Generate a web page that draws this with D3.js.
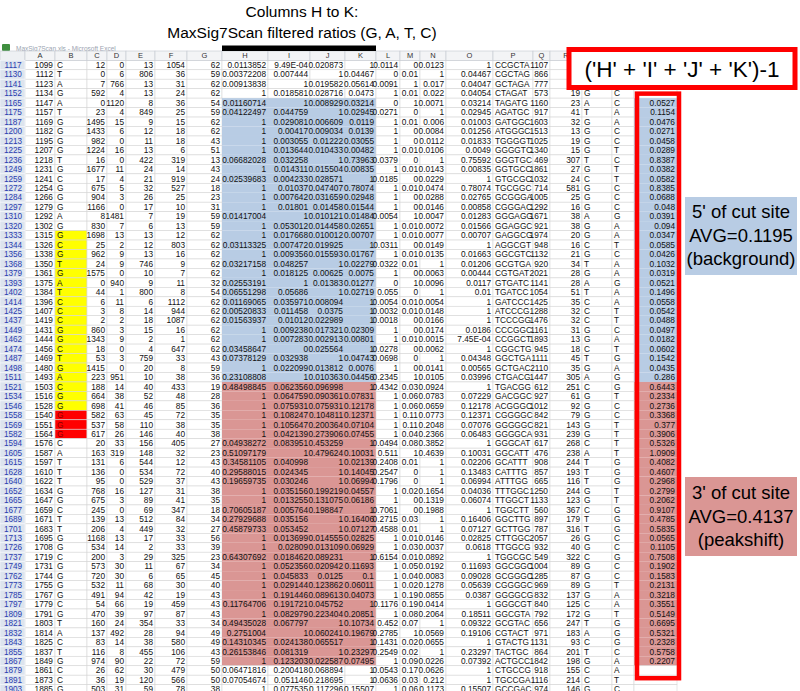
<!DOCTYPE html>
<html><head><meta charset="utf-8">
<script src="https://cdn.jsdelivr.net/npm/d3@7"></script>
<style>body{margin:0;background:#fff}svg{display:block}</style>
</head><body>
<svg id="chart" width="800" height="691"></svg>
<script>
// ---------------- DATA ----------------
const rowNums = [1117,1130,1141,1152,1165,1175,1187,1200,1213,1225,1236,1249,1259,1272,1284,1297,1310,1320,1333,1344,1356,1368,1379,1393,1402,1414,1425,1437,1449,1462,1474,1487,1498,1511,1521,1534,1546,1558,1569,1582,1594,1605,1615,1628,1640,1652,1665,1677,1689,1701,1713,1726,1737,1749,1762,1773,1785,1797,1809,1821,1832,1843,1855,1867,1879,1891,1903];
const colA = [1099,1112,1123,1134,1147,1157,1169,1182,1195,1207,1218,1231,1241,1254,1266,1279,1292,1302,1315,1326,1338,1350,1361,1375,1384,1396,1407,1419,1431,1444,1456,1469,1480,1493,1503,1516,1528,1540,1551,1564,1576,1587,1597,1610,1622,1634,1647,1659,1671,1683,1695,1708,1719,1731,1744,1755,1767,1779,1791,1803,1814,1825,1837,1849,1861,1873,1885];
const colB = ["C","T","A","G","A","T","G","G","G","G","T","G","C","G","G","G","A","G","G","C","G","T","G","A","T","C","C","C","G","G","C","T","G","A","C","G","G","G","G","G","C","A","T","T","T","G","G","C","T","T","G","G","C","G","G","G","G","C","G","T","A","C","T","G","C","C","G"];
const colC = [12,0,7,592,0,23,1495,1433,982,1224,16,1677,17,675,904,1166,8,830,1698,25,962,24,1575,0,44,6,3,2,860,1343,18,53,1415,223,188,664,698,582,537,617,20,163,131,136,95,768,675,245,139,206,1168,534,200,573,720,532,491,54,470,160,137,83,116,974,26,36,503];
const colD = [0,6,766,4,1120,4,15,6,0,16,0,11,4,5,3,0,1481,7,13,2,9,9,0,940,1,11,8,2,3,9,0,3,0,951,14,38,41,63,58,26,33,319,6,0,0,16,3,0,13,4,13,14,3,30,30,11,94,66,39,24,492,14,8,90,62,19,31];
const colE = [13,806,13,13,8,849,9,12,11,13,422,24,21,32,26,17,7,6,13,12,13,746,10,9,800,6,14,18,15,2,4,759,20,10,40,52,46,45,110,146,156,148,544,534,529,127,89,69,512,449,17,2,29,11,6,68,42,19,97,354,28,38,455,22,30,120,59];
const colF = [1054,36,31,24,36,25,15,18,18,6,319,14,919,527,25,10,19,13,12,803,16,9,7,11,8,1112,944,1087,16,1,647,33,8,38,433,48,85,72,38,40,405,32,12,72,37,31,41,347,84,32,33,33,325,67,65,30,19,459,87,33,94,580,106,72,479,566,78];
const colG = [62,59,62,62,54,59,62,62,43,51,13,43,24,18,23,31,59,59,62,62,62,62,62,32,54,62,62,62,62,62,62,43,59,36,19,28,36,35,35,38,27,23,43,40,43,38,35,18,34,27,56,39,23,34,45,40,43,43,43,34,49,49,43,59,50,50,38];
const colH = [0.0113852,0.00372208,0.00913838,1,0.01160714,0.04122497,1,1,1,1,0.06682028,1,0.02539683,1,1,1,0.01417004,1,1,0.03113325,1,0.03217158,1,0.02553191,0.06551298,0.01169065,0.00520833,0.01563937,1,1,0.03458647,0.07378129,1,0.23108808,0.48498845,1,1,1,1,1,0.04938272,0.51097179,0.34581105,0.29588015,0.19659735,1,1,0.70605187,0.27929688,0.45879733,1,1,0.64307692,1,1,1,1,0.11764706,1,0.49435028,0.2751004,0.14310345,0.26153846,1,0.06471816,0.07054674,1];
const colI = [0.000949,0.007444,1,0.018581,1,0.044759,0.029081,0.00417,0.003055,0.013644,0.032258,0.014311,0.004233,0.01037,0.007642,0.01801,1,0.053012,0.017668,0.007472,0.009356,0.048257,0.018125,1,0.05686,0.035971,0.011458,0.01012,0.009238,0.007283,0,0.032938,0.022099,1,0.062356,0.064759,0.075931,0.108247,0.105647,0.042139,0.083951,1,0.040998,0.024345,0.030246,0.035156,0.013255,0.005764,0.035156,0.053452,0.013699,0.02809,0.018462,0.052356,0.045833,0.029144,0.191446,0.191721,0.082979,0.067797,1,0.024138,0.081319,0.123203,0.200418,0.051146,0.077535];
const colJ = [0.020873,1,0.019582,0.028716,0.008929,1,0.006609,0.009034,0.01222,0.010433,1,0.015504,0.028571,0.047407,0.031659,0.01458,0.010121,0.014458,0.010012,0.019925,0.015593,1,0.00625,0.01383,1,0.008094,0.0375,0.022989,0.017321,0.002913,0.025564,1,0.013812,0.010363,0.096998,0.090361,0.075931,0.104811,0.200364,0.273906,0.453259,0.479624,1,1,1,0.199219,0.131075,0.198847,1,1,0.014555,0.013109,0.089231,0.020942,0.0125,0.123862,0.089613,0.045752,0.223404,1,0.060241,0.065517,1,0.022587,0.068894,0.218695,0.117296];
const colK = [1,0.04467,0.05614,0.0473,0.03214,0.02945,0.0119,0.0139,0.03055,0.00482,0.73963,0.00835,1,0.78074,0.02948,0.01544,0.01484,0.02651,0.00707,1,0.01767,0.02279,0.0075,0.01277,0.02719,1,1,1,0.02309,0.00801,1,0.04743,0.0076,0.04456,1,0.07831,0.12178,0.12371,0.07104,0.07455,1,0.10031,0.02139,0.14045,0.06994,0.04557,0.06186,1,0.16406,0.07127,0.02825,0.06929,1,0.11693,0.1,0.06011,0.04073,1,0.20851,0.10734,0.19679,1,0.23297,0.07495,1,1,0.15507];
const colL = [0.0114,0,0.0091,1,0,0.0271,1,1,1,1,0.0379,1,0.0185,1,1,1,0.0054,1,1,0.0311,1,0.0322,1,0,0.055,0.0054,0.0032,0.0018,1,1,0.0278,0.0698,1,0.2345,0.4342,1,1,1,1,1,0.0494,0.511,0.2408,0.2547,0.1796,1,1,0.7061,0.2715,0.4588,1,1,0.6154,1,1,1,1,0.1176,1,0.452,0.2785,0.1431,0.2549,1,0.0543,0.0636,1];
const colM = [0,0.01,1,0.01,1,0,0.01,0,0,0.01,0,0.01,0,0.01,0,0,1,0.01,0.01,0,0.01,0.01,0,1,0,0.01,0.01,0,0,0.01,0,0,0,1,0.03,0.06,0.06,0.11,0.11,0.04,0.08,1,0.01,0,0,0.02,0,0,0.03,0.01,0.01,0.03,0.01,0.05,0.04,0.02,0.19,0.19,0.08,0.07,1,0.02,0.02,0.09,0.17,0.03,0.06];
const colN = [0.0123,1,0.017,0.022,0.0071,1,0.006,0.0084,0.0112,0.0106,1,0.0143,0.0229,0.0474,0.0288,0.0146,0.0047,0.0072,0.0077,0.0149,0.0135,1,0.0063,0.0096,1,0.0054,0.0148,0.0166,0.0174,0.0015,0.0062,1,0.0141,0.0105,0.0924,0.0783,0.0659,0.0773,0.2048,0.2366,0.3852,0.4639,1,1,1,0.1654,0.1319,0.1988,1,1,0.0146,0.0037,0.0892,0.0192,0.0083,0.1278,0.0855,0.0414,0.2064,1,0.0569,0.0655,1,0.0226,0.0626,0.212,0.1173];
const colO = [1,0.04467,0.04047,0.04054,0.03214,0.02945,0.01003,0.01256,0.01833,0.0049,0.75592,0.00835,1,0.78074,0.02765,0.00858,0.01283,0.01566,0.00707,1,0.01663,0.01206,0.00444,0.0117,0.01,1,1,1,0.0186,0.000745,1,0.04348,0.00565,0.03996,1,0.07229,0.12178,0.12371,0.07076,0.06483,1,0.10031,0.02206,0.13483,0.06994,0.04036,0.06074,1,0.16406,0.07127,0.02825,0.0618,1,0.11693,0.09028,0.05639,0.0387,1,0.18511,0.09322,0.19106,1,0.23297,0.07392,1,1,0.15507];
const colP = ["CCGCTA","CGCTAG","GCTAGA","CTAGAT","TAGATG","AGATGC","GATGGC","ATGGGC","TGGGGT","GGGGTC","GGGTGC","GGTGCC","GTGCGC","TGCGGC","GCGGGA","CGGGAC","GGGAGG","GGAGGC","GAGGCG","AGGCGT","GGCGTC","GCGTGA","CGTGAT","GTGATC","TGATCC","GATCCC","ATCCCG","TCCCGG","CCCGGC","CCGGCT","CGGCTG","GGCTGA","GCTGAC","CTGACG","TGACGG","GACGGC","ACGGGC","CGGGGC","GGGGGC","GGGGCA","GGGCAT","GGCATT","GCATTT","CATTTG","ATTTGG","TTTGGC","TTGGCT","TGGCTT","GGCTTG","GCTTGG","CTTGGC","TTGGCG","TGGCGC","GGCGGC","GCGGGC","CGGGGC","GGGGCG","GGGCGT","GGCGTA","GCGTAC","CGTACT","GTACTG","TACTGC","ACTGCC","CTGCCG","TGCCGA","GCCGAC"];
const colQ = [1107,866,777,573,1160,917,1603,1513,1025,1340,469,1861,1032,714,1005,1292,1671,921,1974,948,1132,920,2021,1141,1054,1425,1288,1476,1161,1893,945,1111,2110,1447,612,927,1012,842,821,931,617,476,908,857,665,1250,1133,560,897,787,2057,932,549,1004,1285,969,832,840,792,656,971,1131,864,1842,918,1116,974];
const colR = [21,31,27,19,23,41,32,13,19,15,307,27,24,581,25,16,38,38,20,16,21,34,28,28,51,35,32,32,31,13,18,45,35,305,251,61,92,79,143,239,268,238,244,193,116,244,123,367,179,316,26,40,322,89,87,89,137,125,172,247,183,93,201,198,155,214,146];
const colS = ["C","T","A","G","A","T","G","G","G","G","T","G","C","G","G","G","A","G","G","C","G","T","G","A","T","C","C","C","G","G","C","T","G","A","C","G","G","G","G","G","C","A","T","T","T","G","G","C","T","T","G","G","C","G","G","G","G","C","G","T","A","C","T","G","C","C","G"];
const colT = ["G","C","C","C","C","A","A","C","C","T","C","T","T","C","C","C","G","A","A","T","C","A","A","G","A","A","T","T","C","A","T","G","A","G","G","T","C","C","T","T","T","T","G","G","G","T","T","G","G","G","C","C","G","C","C","T","A","A","T","G","G","G","C","A","A","T","C"];
// ('H'+'I'+'J'+'K')-1
const colU = [null,null,null,null,0.0527,0.1154,0.0476,0.0271,0.0458,0.0289,0.8387,0.0382,0.0582,0.8385,0.0688,0.048,0.0391,0.094,0.0347,0.0585,0.0426,0.1032,0.0319,0.0521,0.1496,0.0558,0.0542,0.0488,0.0497,0.0182,0.0602,0.1542,0.0435,0.286,0.6443,0.2334,0.2736,0.3368,0.377,0.3906,0.5326,1.0909,0.4082,0.4607,0.2968,0.2799,0.2062,0.9107,0.4785,0.5835,0.0565,0.1105,0.7508,0.1902,0.1583,0.2131,0.3218,0.3551,0.5149,0.6695,0.5321,0.2328,0.5758,0.2207,null,null,null];

const region5Rows = [1165, 1511];   // 5' of cut site (background)
const region3Rows = [1521, 1867];   // 3' of cut site (peakshift)
const yellowRows = [1333, 1546];
const redRows = [1558, 1582];
const colLetters = ["A","B","C","D","E","F","G","H","I","J","K","L","M","N","O","P","Q","R","S","T","U"];
const titleLines = ["Columns H to K:", "MaxSig7Scan filtered ratios (G, A, T, C)"];
const formulaLabel = "('H' + 'I' + 'J' + 'K')-1";
const note5 = ["5' of cut site", "AVG=0.1195", "(background)"];
const note3 = ["3' of cut site", "AVG=0.4137", "(peakshift)"];

// ---------------- LAYOUT ----------------
const widths = {A:30,B:32,C:20,D:19,E:29,F:32,G:35,H:46,I:42,J:35,K:31,L:24,M:20,N:26,O:47,P:40,Q:17,R:32,S:30,T:22,U:43};
const rowHeadW = 25;
const edges = [rowHeadW];
colLetters.forEach((c,i)=>edges.push(edges[i]+widths[c]));
const x = d3.scaleOrdinal().domain(colLetters).range(edges.slice(0,-1));
const w = c => widths[c];
const gridTop = 60.3, rowH = 9.46;
const y = d3.scaleBand().domain(rowNums).range([gridTop, gridTop + rowNums.length*rowH]).padding(0);

const BLUE = "#b8cce4", PINK = "#da9694", GRID = "#d6d6d6";
const inRange = (r, rg) => r >= rg[0] && r <= rg[1];
const fmt = v => {
  if (v === null || v === undefined) return "";
  if (typeof v === "string") return v;
  if (v > 0 && v < 0.001) {
    const [m, e] = v.toExponential(2).toUpperCase().split("E");
    const n = parseInt(e, 10);
    return m + "E" + (n < 0 ? "-" : "+") + String(Math.abs(n)).padStart(2, "0");
  }
  return String(v);
};

const cols = {A:colA,B:colB,C:colC,D:colD,E:colE,F:colF,G:colG,H:colH,I:colI,J:colJ,K:colK,L:colL,M:colM,N:colN,O:colO,P:colP,Q:colQ,R:colR,S:colS,T:colT,U:colU};
const leftAligned = new Set(["B","P","S","T"]);
const shaded = (c, d) => ("HIJK".includes(c) || (c === "U" && colU[d.i] !== null)) &&
  (inRange(d.r, region5Rows) || inRange(d.r, region3Rows));

const svg = d3.select("#chart");
svg.append("rect").attr("width",800).attr("height",691).attr("fill","#fff");

// window title strip
svg.append("rect").attr("x",2).attr("y",44).attr("width",8).attr("height",7).attr("fill","#3f8f3f").attr("rx",1);
svg.append("text").attr("x",16).attr("y",50.5).attr("font-family","Liberation Sans, Arial, sans-serif")
  .attr("font-size",6.5).attr("fill","#9aa3b0").text("MaxSig7Scan.xls  -  Microsoft Excel");

// cells
const cellG = svg.append("g");
const rowsData = rowNums.map((r,i)=>({r,i}));
colLetters.forEach(c=>{
  cellG.selectAll(null).data(rowsData).join("rect")
    .attr("x", x(c)).attr("y", d=>y(d.r)).attr("width", w(c)).attr("height", y.bandwidth())
    .attr("fill", d=>{
      if (c === "B" && inRange(d.r, yellowRows)) return "#ffff00";
      if (c === "B" && inRange(d.r, redRows)) return "#ff0000";
      if (shaded(c, d)) return inRange(d.r, region5Rows) ? BLUE : PINK;
      return "#fff";
    })
    .attr("stroke", d=> shaded(c, d) ? "none" : GRID).attr("stroke-width",0.6);
});

// header row
const hdr = svg.append("g");
hdr.append("rect").attr("x",0).attr("y",51).attr("width",rowHeadW).attr("height",gridTop-51).attr("fill","#eef0f3").attr("stroke","#c3c8d0").attr("stroke-width",0.6);
hdr.selectAll(null).data(colLetters).join("rect")
  .attr("x", c=>x(c)).attr("y",51).attr("width", c=>w(c)).attr("height", gridTop-51)
  .attr("fill","#f3f4f6").attr("stroke","#c3c8d0").attr("stroke-width",0.6);
hdr.selectAll(null).data(colLetters).join("text")
  .attr("x", c=>x(c)+w(c)/2).attr("y", gridTop-2).attr("text-anchor","middle")
  .attr("font-family","Liberation Sans, Arial, sans-serif").attr("font-size",7.5).attr("fill","#333")
  .text(c=>c);

// row headers
const rh = svg.append("g");
rh.selectAll(null).data(rowsData).join("rect")
  .attr("x",0).attr("y", d=>y(d.r)).attr("width",rowHeadW).attr("height",y.bandwidth())
  .attr("fill","#dde4ee").attr("stroke","#f4f6fa").attr("stroke-width",0.7);
rh.selectAll(null).data(rowsData).join("text")
  .attr("x", rowHeadW/2+0.5).attr("y", d=>y(d.r)+y.bandwidth()/2+3).attr("text-anchor","middle")
  .attr("font-family","Liberation Sans, Arial, sans-serif").attr("font-size",8.2).attr("fill","#2a3db0")
  .text(d=>d.r);

// cell text
const tg = svg.append("g").attr("font-family","Liberation Sans, Arial, sans-serif").attr("font-size",8.3).attr("fill","#111");
Object.keys(cols).forEach(c=>{
  const arr = cols[c];
  tg.selectAll(null).data(rowsData).join("text")
    .attr("x", leftAligned.has(c) ? x(c)+2 : x(c)+w(c)-2)
    .attr("y", d=>y(d.r)+y.bandwidth()/2+3)
    .attr("text-anchor", leftAligned.has(c) ? "start" : "end")
    .attr("fill", d => (c==="B" && inRange(d.r, redRows)) ? "#8a0000" : "#111")
    .text(d=>fmt(arr[d.i]));
});

// ---------- annotations ----------
const ann = svg.append("g").attr("font-family","Liberation Sans, Arial, sans-serif");
// title
ann.selectAll(null).data(titleLines).join("text")
  .attr("x",302).attr("y",(d,i)=>17+i*21).attr("text-anchor","middle")
  .attr("font-size",15.5).attr("fill","#000").text(d=>d);
// bracket bar over H..K
ann.append("rect").attr("x",x("H")).attr("y",45.5).attr("width",x("L")-x("H")).attr("height",5.5).attr("fill","#000");

// red box around U column values
const uTop = y(region5Rows[0]) - 4.5, uBot = y(1891) + 3;
ann.append("rect").attr("x",x("U")+3).attr("y",uTop).attr("width",w("U")-1).attr("height",uBot-uTop)
  .attr("fill","none").attr("stroke","#ff0000").attr("stroke-width",4.5);

// formula box
ann.append("rect").attr("x",569).attr("y",49.5).attr("width",226).attr("height",38)
  .attr("fill","#fff").attr("stroke","#ff0000").attr("stroke-width",5);
ann.append("text").attr("x",682).attr("y",76.5).attr("text-anchor","middle").attr("font-size",22.5).attr("fill","#000").text(formulaLabel);

// 5' box
ann.append("rect").attr("x",685).attr("y",197).attr("width",112).attr("height",78).attr("fill",BLUE);
ann.selectAll(null).data(note5).join("text")
  .attr("x",741).attr("y",(d,i)=>218+i*23.5).attr("text-anchor","middle").attr("font-size",18.5).attr("fill","#000").text(d=>d);
// 3' box
ann.append("rect").attr("x",685).attr("y",477).attr("width",112).attr("height",79).attr("fill",PINK);
ann.selectAll(null).data(note3).join("text")
  .attr("x",741).attr("y",(d,i)=>499+i*23.5).attr("text-anchor","middle").attr("font-size",18.5).attr("fill","#000").text(d=>d);
</script>
</body></html>
